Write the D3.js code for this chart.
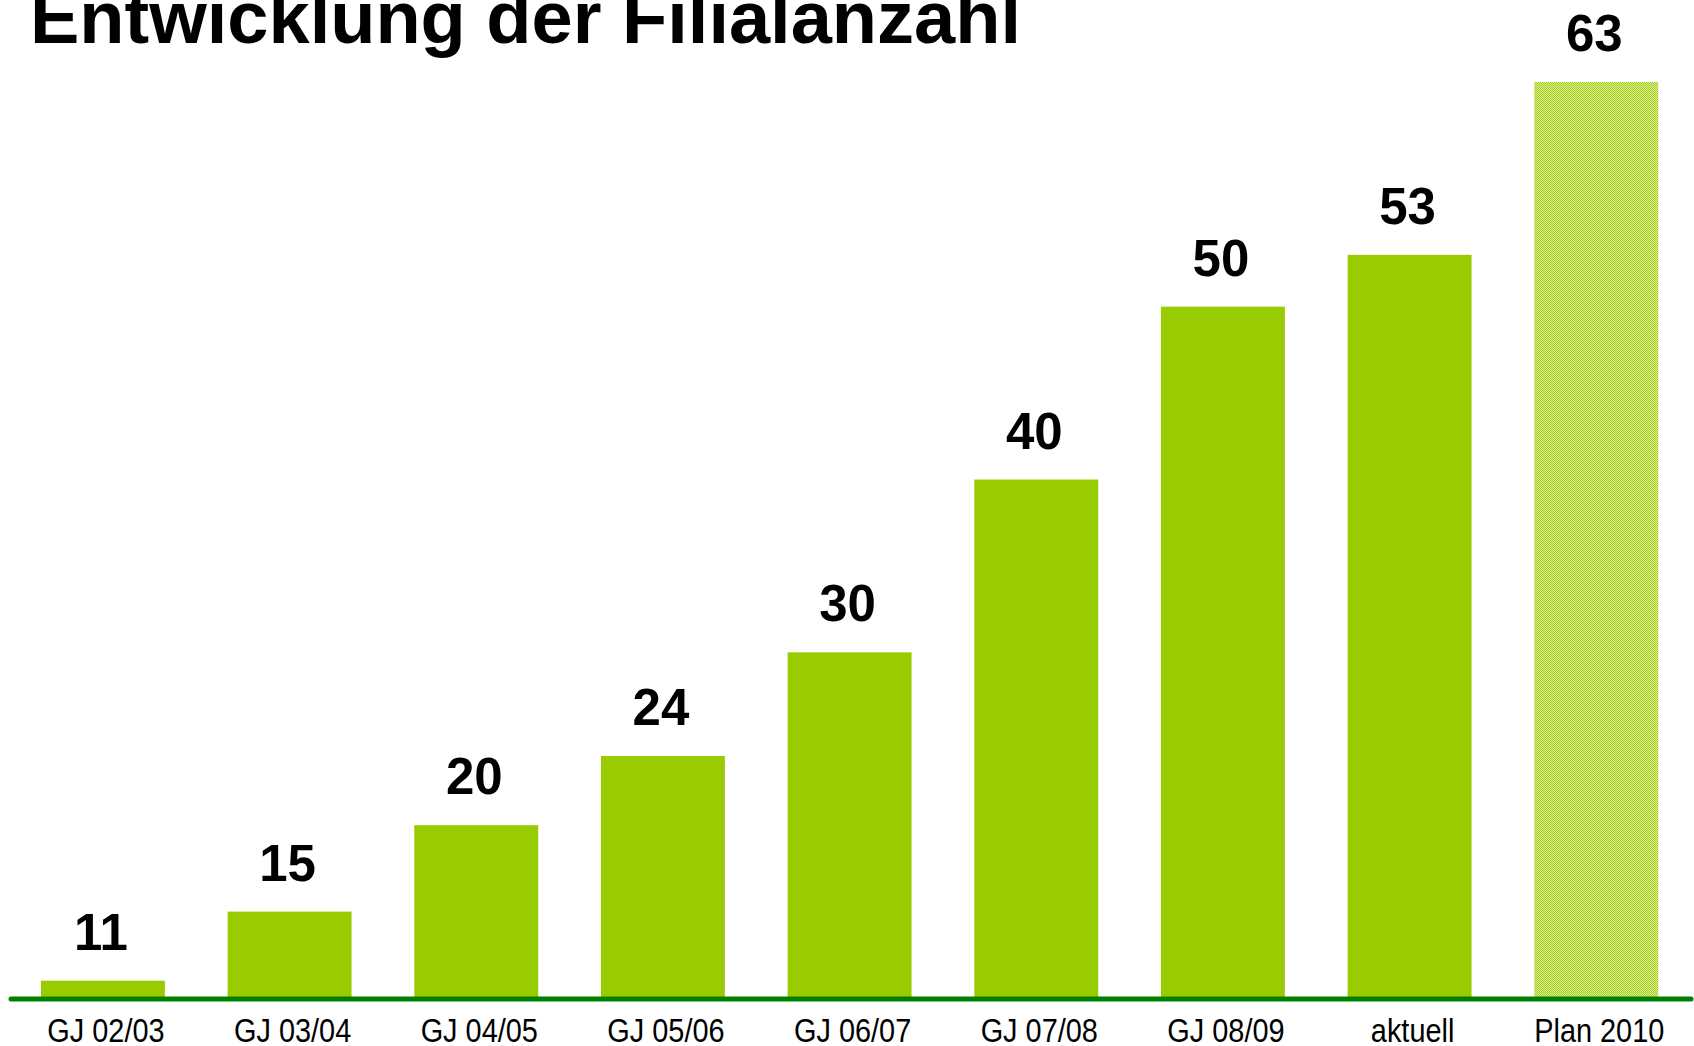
<!DOCTYPE html>
<html>
<head>
<meta charset="utf-8">
<script src="https://cdnjs.cloudflare.com/ajax/libs/d3/7.8.5/d3.min.js"></script>
<style>
  html, body { margin: 0; padding: 0; background: #fff; overflow: hidden; }
  svg { display: block; font-family: "Liberation Sans", Arial, sans-serif; }
</style>
</head>
<body>
<svg id="chart" width="1694" height="1046"></svg>
<script>
// chart data
var categories = ["GJ 02/03", "GJ 03/04", "GJ 04/05", "GJ 05/06", "GJ 06/07",
                  "GJ 07/08", "GJ 08/09", "aktuell", "Plan 2010"];
var values = [11, 15, 20, 24, 30, 40, 50, 53, 63];
var planned = [false, false, false, false, false, false, false, false, true];
var titleText = "Entwicklung der Filialanzahl";

var width = 1694, height = 1046;
var svg = d3.select("#chart");

// dithered fill for the planned bar
var defs = svg.append("defs");
var pat = defs.append("pattern")
    .attr("id", "dither")
    .attr("patternUnits", "userSpaceOnUse")
    .attr("width", 2).attr("height", 2);
pat.append("rect").attr("width", 2).attr("height", 2).attr("fill", "#dcedа0".replace("а", "a"));
pat.append("rect").attr("width", 1).attr("height", 1).attr("fill", "#a3d10f");
pat.append("rect").attr("x", 1).attr("y", 1).attr("width", 1).attr("height", 1).attr("fill", "#a3d10f");

var x = d3.scaleBand()
    .domain(categories)
    .range([9.6, 1689.6])
    .paddingInner(0.336)
    .paddingOuter(0.168);

// the value axis does not start at zero in the original
var y = d3.scaleLinear()
    .domain([10, 63])
    .range([998, 82]);

// title (partly cut off at the top edge, as in the original)
svg.append("text")
    .attr("x", 30)
    .attr("y", 43)
    .attr("font-size", 74)
    .attr("font-weight", "bold")
    .attr("fill", "#000")
    .text(titleText);

// bars
svg.selectAll("rect.bar")
    .data(values)
    .enter()
    .append("rect")
    .attr("class", "bar")
    .attr("x", function(d, i){ return x(categories[i]); })
    .attr("y", function(d){ return y(d); })
    .attr("width", x.bandwidth())
    .attr("height", function(d){ return y(10) - y(d); })
    .attr("fill", function(d, i){ return planned[i] ? "url(#dither)" : "#99cc00"; });

// value labels
svg.selectAll("text.val")
    .data(values)
    .enter()
    .append("text")
    .attr("class", "val")
    .attr("x", function(d, i){ return x(categories[i]) + x.bandwidth() / 2 - 2; })
    .attr("y", function(d){ return y(d) - 31; })
    .attr("text-anchor", "middle")
    .attr("font-size", 51)
    .attr("font-weight", "bold")
    .attr("fill", "#000")
    .text(function(d){ return d; });

// baseline
svg.append("line")
    .attr("x1", 11).attr("x2", 1691)
    .attr("y1", y(10) + 1).attr("y2", y(10) + 1)
    .attr("stroke", "#008000")
    .attr("stroke-width", 5)
    .attr("stroke-linecap", "round");

// category labels, slightly condensed like the original
svg.selectAll("text.cat")
    .data(categories)
    .enter()
    .append("text")
    .attr("class", "cat")
    .attr("transform", function(d){
        return "translate(" + (x(d) + x.bandwidth() / 2 + 3) + ",1042) scale(0.85,1)";
    })
    .attr("text-anchor", "middle")
    .attr("font-size", 34)
    .attr("fill", "#000")
    .text(function(d){ return d; });
</script>
</body>
</html>
